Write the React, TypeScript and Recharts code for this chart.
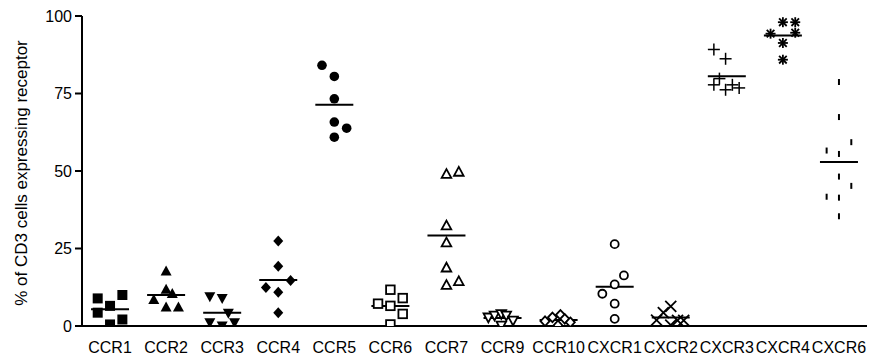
import React from 'react';
import { ScatterChart, Scatter, XAxis, YAxis } from 'recharts';

// receptor names along the x axis
const receptors = ['CCR1', 'CCR2', 'CCR3', 'CCR4', 'CCR5', 'CCR6', 'CCR7', 'CCR9', 'CCR10', 'CXCR1', 'CXCR2', 'CXCR3', 'CXCR4', 'CXCR6'];
const yTicks = [0, 25, 50, 75, 100];

// % of CD3 cells expressing each receptor, one value per donor
const ccr1 = [8.9, 4.3, 6.5, 0.5, 10.0, 2.1];
const ccr2 = [17.6, 11.7, 8.4, 10.3, 6.0, 6.0];
const ccr3 = [9.6, 9.0, 4.3, 1.2, 0.2, 1.2];
const ccr4 = [27.4, 19.3, 14.7, 12.4, 10.9, 4.3];
const ccr5 = [84.1, 80.5, 73.3, 65.8, 63.8, 60.9];
const ccr6 = [11.7, 9.0, 7.2, 6.5, 3.9, 0.5];
const ccr7 = [49.0, 49.7, 32.4, 26.9, 18.8, 13.2, 14.4];
const ccr9 = [2.8, 3.4, 3.9, 3.4, 1.8, 0.2];
const ccr10 = [1.55, 2.8, 3.6, 0.2, 2.3, 1.2];
const cxcr1 = [26.4, 16.3, 13.4, 10.4, 7.2, 2.3];
const cxcr2 = [6.3, 4.3, 1.9, 0.3, 1.8, 1.8];
const cxcr3 = [89.2, 86.2, 79.8, 77.8, 76.2, 77.8, 76.8];
const cxcr4 = [98.0, 98.0, 94.3, 94.6, 91.3, 85.9];
const cxcr6 = [78.7, 67.4, 59.3, 56.6, 55.5, 48.2, 45.2, 41.7, 41.4, 35.4];

const groups = [ccr1, ccr2, ccr3, ccr4, ccr5, ccr6, ccr7, ccr9, ccr10, cxcr1, cxcr2, cxcr3, cxcr4, cxcr6];

// scatter spread: which column each point sits in (-1 left, 0 centre, 1 right)
const spread = [
  [-1, -1, 0, 0, 1, 1],
  [0, 0, -1, 0.5, 0, 1],
  [-1, 0, 0.5, -1, 0, 1],
  [0, 0, 1, -1, 0, 0],
  [-1, 0, 0, 0, 1, 0],
  [0, 1, -1, 0, 1, 0],
  [0, 1, 0, 0, 0, 0, 1],
  [-1.15, -0.65, -0.1, 0.3, 0.85, -0.1],
  [-1.1, -0.5, 0.15, -0.05, 0.5, 0.95],
  [0, 0.75, 0, -1, 0, 0],
  [0, -0.6, -1.15, 0, 0.55, 1.05],
  [-1.05, -0.1, -0.6, -1.05, -0.1, 0.45, 1.0],
  [0, 1, -1, 1, 0, 0],
  [0, 0, 1, -1, 0, 0, 1, -1, 0, 0],
];

const markers = [
  'square', 'triangle', 'triangleDown', 'diamond', 'circle', 'squareOpen', 'triangleOpen',
  'triangleDownOpen', 'diamondOpen', 'circleOpen', 'cross', 'plus', 'asterisk', 'dash',
];

const SLOT = 0.22;
const INK = '#000';

const mean = (arr: number[]) => arr.reduce((a, b) => a + b, 0) / arr.length;

const Marker = ({ kind, cx, cy }: { kind: string; cx: number; cy: number }) => {
  const open = { fill: '#fff', stroke: INK, strokeWidth: 1.8 };
  const line = { stroke: INK, strokeWidth: 1.8 };
  switch (kind) {
    case 'square':
      return <rect x={cx - 5} y={cy - 5} width={10} height={10} fill={INK} />;
    case 'triangle':
      return <polygon points={`${cx},${cy - 6} ${cx + 5.5},${cy + 4} ${cx - 5.5},${cy + 4}`} fill={INK} />;
    case 'triangleDown':
      return <polygon points={`${cx - 5.5},${cy - 4} ${cx + 5.5},${cy - 4} ${cx},${cy + 6}`} fill={INK} />;
    case 'diamond':
      return <polygon points={`${cx},${cy - 5.5} ${cx + 5},${cy} ${cx},${cy + 5.5} ${cx - 5},${cy}`} fill={INK} />;
    case 'circle':
      return <circle cx={cx} cy={cy} r={4.8} fill={INK} />;
    case 'squareOpen':
      return <rect x={cx - 4.3} y={cy - 4.3} width={8.6} height={8.6} {...open} />;
    case 'triangleOpen':
      return <polygon points={`${cx},${cy - 5} ${cx + 4.8},${cy + 3.8} ${cx - 4.8},${cy + 3.8}`} {...open} />;
    case 'triangleDownOpen':
      return <polygon points={`${cx - 4.8},${cy - 3.8} ${cx + 4.8},${cy - 3.8} ${cx},${cy + 5}`} {...open} />;
    case 'diamondOpen':
      return <polygon points={`${cx},${cy - 4.8} ${cx + 4.5},${cy} ${cx},${cy + 4.8} ${cx - 4.5},${cy}`} {...open} />;
    case 'circleOpen':
      return <circle cx={cx} cy={cy} r={4} {...open} />;
    case 'cross':
      return (
        <g {...line}>
          <line x1={cx - 5.5} y1={cy - 5.5} x2={cx + 5.5} y2={cy + 5.5} />
          <line x1={cx - 5.5} y1={cy + 5.5} x2={cx + 5.5} y2={cy - 5.5} />
        </g>
      );
    case 'plus':
      return (
        <g stroke={INK} strokeWidth={1.5}>
          <line x1={cx - 6} y1={cy} x2={cx + 6} y2={cy} />
          <line x1={cx} y1={cy - 6} x2={cx} y2={cy + 6} />
        </g>
      );
    case 'asterisk':
      return (
        <g {...line}>
          <line x1={cx - 5} y1={cy} x2={cx + 5} y2={cy} />
          <line x1={cx} y1={cy - 5} x2={cx} y2={cy + 5} />
          <line x1={cx - 3.8} y1={cy - 3.8} x2={cx + 3.8} y2={cy + 3.8} />
          <line x1={cx - 3.8} y1={cy + 3.8} x2={cx + 3.8} y2={cy - 3.8} />
        </g>
      );
    default:
      return <line x1={cx} y1={cy - 3} x2={cx} y2={cy + 3} stroke={INK} strokeWidth={2} />;
  }
};

const MeanBar = ({ cx, cy }: { cx: number; cy: number }) => (
  <line x1={cx - 19} y1={cy} x2={cx + 19} y2={cy} stroke={INK} strokeWidth={2} />
);

const App = () => {
  const font = { fontFamily: '"Liberation Sans", Arial, sans-serif', fontSize: 16, fill: INK };
  const means = groups.map((g, i) => ({ x: i, y: mean(g) }));

  return (
    <div style={{ position: 'absolute', left: 0, top: 0, width: 870, height: 360, background: '#fff' }}>
      <ScatterChart width={870} height={360} margin={{ top: 16, right: 3, left: 0, bottom: 0 }}>
        <XAxis
          type="number"
          dataKey="x"
          domain={[-0.5, 13.5]}
          allowDataOverflow
          ticks={receptors.map((_, i) => i)}
          interval={0}
          tickFormatter={(v: number) => receptors[v]}
          tickLine={false}
          tickSize={0}
          tickMargin={16}
          height={34}
          axisLine={{ stroke: INK, strokeWidth: 2 }}
          tick={font}
        />
        <YAxis
          type="number"
          dataKey="y"
          domain={[0, 100]}
          allowDataOverflow
          ticks={yTicks}
          width={82}
          tickSize={7}
          tickMargin={3}
          tickLine={{ stroke: INK, strokeWidth: 2 }}
          axisLine={{ stroke: INK, strokeWidth: 2 }}
          tick={font}
        />
        <Scatter data={means} shape={(p: any) => <MeanBar cx={p.cx} cy={p.cy} />} isAnimationActive={false} />
        {groups.map((g, i) => (
          <Scatter
            key={receptors[i]}
            data={g.map((v, j) => ({ x: i + spread[i][j] * SLOT, y: v }))}
            shape={(p: any) => <Marker kind={markers[i]} cx={p.cx} cy={p.cy} />}
            isAnimationActive={false}
          />
        ))}
      </ScatterChart>
      <svg width={40} height={360} style={{ position: 'absolute', left: 0, top: 0 }}>
        <text
          transform="translate(21,173) rotate(-90)"
          textAnchor="middle"
          dominantBaseline="central"
          fontFamily='"Liberation Sans", Arial, sans-serif'
          fontSize={17}
          fill={INK}
        >
          % of CD3 cells expressing receptor
        </text>
      </svg>
    </div>
  );
};

export default App;
